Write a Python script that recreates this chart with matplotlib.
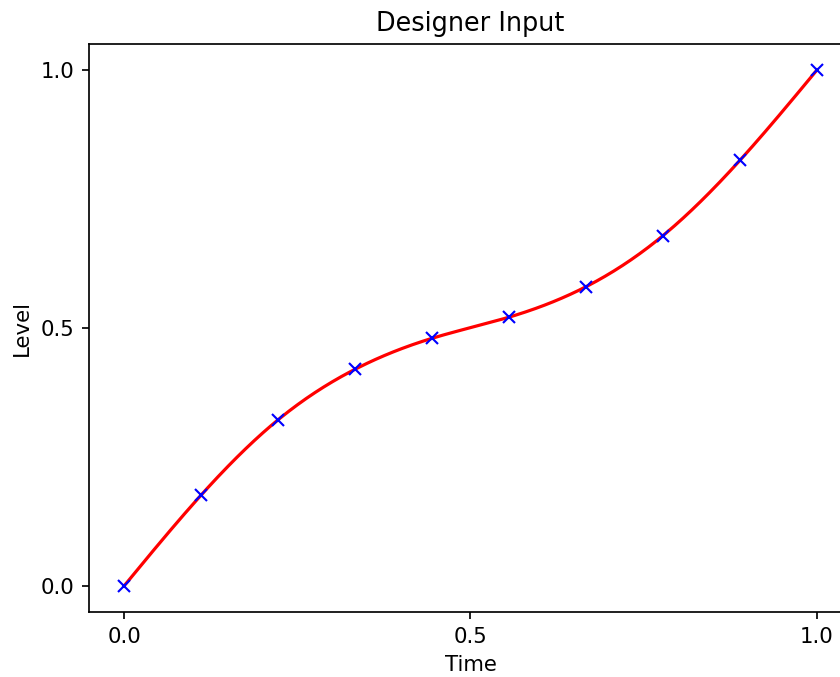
import numpy as np
import matplotlib
matplotlib.use("Agg")
import matplotlib.pyplot as plt

time_pts = [0.0, 1/9, 2/9, 3/9, 4/9, 5/9, 6/9, 7/9, 8/9, 1.0]
level_pts = [0.0, 0.176, 0.322, 0.420, 0.480, 0.521, 0.580, 0.679, 0.825, 1.0]
tick_vals = [0.0, 0.5, 1.0]


def natural_spline(x, y, xs):
    # plain natural cubic spline through the designer points
    x = np.asarray(x, float)
    y = np.asarray(y, float)
    n = len(x)
    h = np.diff(x)
    A = np.zeros((n, n))
    b = np.zeros(n)
    A[0, 0] = A[-1, -1] = 1
    for i in range(1, n - 1):
        A[i, i - 1] = h[i - 1]
        A[i, i] = 2 * (h[i - 1] + h[i])
        A[i, i + 1] = h[i]
        b[i] = 3 * ((y[i + 1] - y[i]) / h[i] - (y[i] - y[i - 1]) / h[i - 1])
    c = np.linalg.solve(A, b)
    idx = np.clip(np.searchsorted(x, xs) - 1, 0, n - 2)
    dx = xs - x[idx]
    bb = (y[idx + 1] - y[idx]) / h[idx] - h[idx] * (2 * c[idx] + c[idx + 1]) / 3
    dd = (c[idx + 1] - c[idx]) / (3 * h[idx])
    return y[idx] + bb * dx + c[idx] * dx**2 + dd * dx**3


xs = np.linspace(0, 1, 400)
ys = natural_spline(time_pts, level_pts, xs)

dpi = 153
fig = plt.figure(figsize=(840 / dpi, 677 / dpi), dpi=dpi)
ax = fig.add_axes([0.1064, 0.0963, 0.9074, 0.8384])
ax.plot(xs, ys, color='r')
ax.plot(time_pts, level_pts, 'x', color='b')
ax.set_xticks(tick_vals)
ax.set_yticks(tick_vals)
ax.set_xlabel('Time')
ax.set_ylabel('Level')
ax.set_title('Designer Input')
fig.savefig('out.png', dpi=dpi)
